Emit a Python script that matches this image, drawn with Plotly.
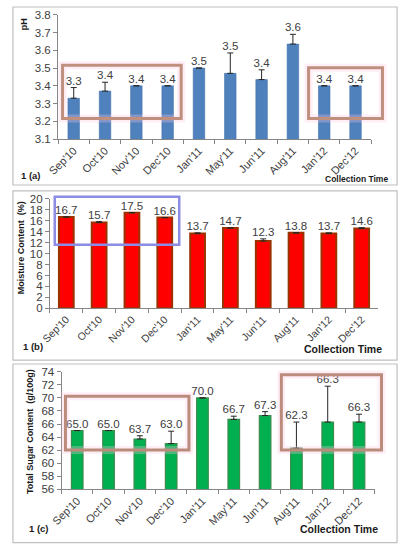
import plotly.graph_objects as go

# ---------------- data ----------------
months = ["Sep'10", "Oct'10", "Nov'10", "Dec'10", "Jan'11",
          "May'11", "Jun'11", "Aug'11", "Jan'12", "Dec'12"]

ph_values = [3.33, 3.37, 3.40, 3.40, 3.50, 3.47, 3.435, 3.635, 3.40, 3.40]
ph_errors = [0.06, 0.05, 0, 0, 0, 0.115, 0.055, 0.055, 0, 0]
ph_labels = ["3.3", "3.4", "3.4", "3.4", "3.5", "3.5", "3.4", "3.6", "3.4", "3.4"]

moisture_values = [16.7, 15.7, 17.5, 16.6, 13.7, 14.7, 12.3, 13.8, 13.7, 14.6]
moisture_errors = [0, 0.15, 0, 0, 0.1, 0, 0.4, 0, 0.1, 0.15]
moisture_labels = ["16.7", "15.7", "17.5", "16.6", "13.7", "14.7", "12.3", "13.8", "13.7", "14.6"]

sugar_values = [65.0, 65.0, 63.7, 63.0, 70.0, 66.7, 67.3, 62.3, 66.3, 66.3]
sugar_errors = [0, 0, 0.5, 1.9, 0, 0.5, 0.6, 4.0, 5.5, 1.2]
sugar_labels = ["65.0", "65.0", "63.7", "63.0", "70.0", "66.7", "67.3", "62.3", "66.3", "66.3"]

# ---------------- layout helpers ----------------
W, H = 399, 550
FONT = "Liberation Sans, Arial, sans-serif"
TXT = "#404040"
AX = "#868686"


def X(px):
    return px / W


def Y(py):
    return 1 - py / H


fig = go.Figure()

panels = [
    dict(vals=ph_values, errs=ph_errors, labs=ph_labels, color="#4f81bd", line="#3d6da8", lw=0.5,
         width=0.37, xd=(48.4, 370.4), yd=(136, 9), rng=[3.1, 3.8], dtick=0.1, fmt=".1f", xf=11),
    dict(vals=moisture_values, errs=moisture_errors, labs=moisture_labels, color="#ff0000", line="#993300", lw=2,
         width=0.45, xd=(40.0, 377.5), yd=(309, 197.3), rng=[0, 20], dtick=2, fmt="d", xf=10.5),
    dict(vals=sugar_values, errs=sugar_errors, labs=sugar_labels, color="#00b050", line="#3c8a4c", lw=1.2,
         width=0.37, xd=(52.0, 374.0), yd=(494, 374), rng=[56, 74], dtick=2, fmt="d", xf=11),
]

for i, p in enumerate(panels, start=1):
    xa = "x" if i == 1 else f"x{i}"
    ya = "y" if i == 1 else f"y{i}"
    fig.add_trace(go.Bar(
        x=months, y=p["vals"], xaxis=xa, yaxis=ya, width=p["width"],
        marker=dict(color=p["color"], line=dict(color=p["line"], width=p["lw"])),
        error_y=dict(type="data", array=p["errs"], arrayminus=[0] * len(p["errs"]),
                     symmetric=False, color="#262626", thickness=1, width=3),
        showlegend=False, hoverinfo="skip"))
    fig.add_trace(go.Scatter(
        x=months, y=[v + e for v, e in zip(p["vals"], p["errs"])], xaxis=xa, yaxis=ya,
        mode="text", text=p["labs"], textposition="top center",
        textfont=dict(family=FONT, size=11.5, color=TXT),
        cliponaxis=False, showlegend=False, hoverinfo="skip"))
    axkey = "xaxis" if i == 1 else f"xaxis{i}"
    aykey = "yaxis" if i == 1 else f"yaxis{i}"
    fig.layout[axkey] = dict(
        domain=[X(p["xd"][0]), X(p["xd"][1])], anchor=ya, type="category",
        showline=True, linecolor=AX, linewidth=1, ticks="outside", tickson="boundaries",
        ticklen=4, tickcolor=AX, tickangle=-45, showgrid=False,
        tickfont=dict(family=FONT, size=p["xf"], color=TXT), fixedrange=True)
    fig.layout[aykey] = dict(
        domain=[Y(p["yd"][0]), Y(p["yd"][1])], anchor=xa, range=p["rng"], dtick=p["dtick"],
        tick0=p["rng"][0], tickformat=p["fmt"], showline=True, linecolor=AX, linewidth=1,
        ticks="outside", ticklen=4, tickcolor=AX, showgrid=False, zeroline=False,
        tickfont=dict(family=FONT, size=11.5, color=TXT), fixedrange=True)

shapes = []
# panel frames
for (y0, y1) in [(1, 183), (189, 362), (366, 548.5)]:
    shapes.append(dict(type="rect", xref="paper", yref="paper", x0=X(2), x1=X(397), y0=Y(y1), y1=Y(y0),
                       line=dict(color="#bfbfbf", width=1.2), layer="below"))

# highlight boxes
boxes = [
    ((53, 175, 60.5, 115), "#c0907f"),
    ((306, 382, 63, 115), "#c0907f"),
    ((45, 173, 195, 244), "#8c8ce6"),
    ((56, 183, 399, 454), "#bb8c7c"),
    ((278, 381, 377, 454), "#bb8c7c"),
]
for (x0, x1, y0, y1), col in boxes:
    if col != "#8c8ce6":
        shapes.append(dict(type="rect", xref="paper", yref="paper", x0=X(x0), x1=X(x1), y0=Y(y1), y1=Y(y0),
                           line=dict(color="rgba(255,200,225,0.3)", width=8)))
    shapes.append(dict(type="rect", xref="paper", yref="paper", x0=X(x0), x1=X(x1), y0=Y(y1), y1=Y(y0),
                       line=dict(color=col, width=3 if col != "#8c8ce6" else 2.5)))

annotations = []


def ann(text, x, y, size, angle=0, xanchor="center"):
    annotations.append(dict(text=text, x=X(x), y=Y(y), xref="paper", yref="paper", showarrow=False,
                            textangle=angle, xanchor=xanchor, yanchor="middle",
                            font=dict(family=FONT, size=size, color="#1a1a1a")))


ann("<b>pH</b>", 13, 19, 9, -90)
ann("<b>Moisture Content  (%)</b>", 10, 247, 9, -90)
ann("<b>Total Sugar Content  (g/100g)</b>", 19, 435, 9, -90)
ann("<b>Collection Time</b>", 390, 177, 8.5, xanchor="right")
ann("<b>Collection Time</b>", 384, 351, 10.5, xanchor="right")
ann("<b>Collection Time</b>", 379, 535, 10.5, xanchor="right")
ann("<b>1 (a)</b>", 8, 173, 9.5, xanchor="left")
ann("<b>1 (b)</b>", 10, 348, 9.5, xanchor="left")
ann("<b>1 (c)</b>", 16, 534, 9.5, xanchor="left")

fig.update_layout(width=W, height=H, autosize=False, margin=dict(l=0, r=0, t=0, b=0),
                  paper_bgcolor="white", plot_bgcolor="white", shapes=shapes, annotations=annotations,
                  bargap=0.6, font=dict(family=FONT))

fig.write_html("out.html", config={"displayModeBar": False, "staticPlot": True},
               post_script="document.body.style.margin='0';document.body.style.overflow='hidden';")
